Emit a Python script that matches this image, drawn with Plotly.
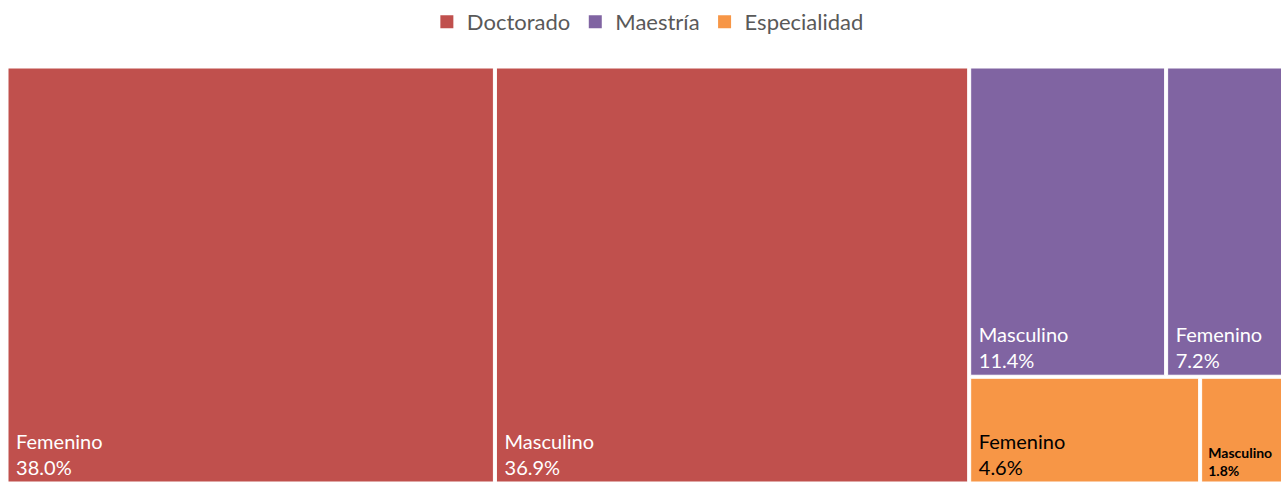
import plotly.graph_objects as go

# ---- data ----
groups = ["Doctorado", "Maestría", "Especialidad"]
group_colors = ["#C0504D", "#8064A2", "#F79646"]
group_text_colors = ["white", "white", "#000000"]

leaf_group = ["Doctorado", "Doctorado", "Maestría", "Maestría", "Especialidad", "Especialidad"]
leaf_labels = ["Femenino", "Masculino", "Masculino", "Femenino", "Femenino", "Masculino"]
leaf_values = [38.0, 36.9, 11.4, 7.2, 4.6, 1.8]

FONT = "Lato"

ids, labels, parents, values, colors, tcolors, tsizes, templates = [], [], [], [], [], [], [], []
for g, c, tc in zip(groups, group_colors, group_text_colors):
    ids.append(g)
    labels.append(g)
    parents.append("")
    values.append(round(sum(v for gg, v in zip(leaf_group, leaf_values) if gg == g), 1))
    colors.append("white")
    tcolors.append(tc)
    tsizes.append(20)
    templates.append("")
for g, lab, v in zip(leaf_group, leaf_labels, leaf_values):
    gi = groups.index(g)
    ids.append(g + "-" + lab)
    labels.append(lab)
    parents.append(g)
    values.append(v)
    colors.append(group_colors[gi])
    tcolors.append(group_text_colors[gi])
    if v < 3:
        tsizes.append(14)
        templates.append(" <b>%{label}</b><br> <b>%{value:.1f}%</b>")
    else:
        tsizes.append(20)
        templates.append(" %{label}<br> %{value:.1f}%")

fig = go.Figure()
fig.add_trace(go.Treemap(
    ids=ids, labels=labels, parents=parents, values=values,
    branchvalues="total", sort=True,
    marker=dict(colors=colors, line=dict(color="white", width=1),
                pad=dict(t=0, l=0, r=0, b=0)),
    texttemplate=templates,
    textposition="bottom left",
    textfont=dict(family=FONT, color=tcolors, size=tsizes),
    pathbar=dict(visible=False),
    tiling=dict(packing="squarify", squarifyratio=1, pad=3),
    hoverinfo="label+value",
    domain=dict(x=[0, 1], y=[0, 1]),
))

for g, c in zip(groups, group_colors):
    fig.add_trace(go.Scatter(
        x=[None], y=[None], mode="markers", name=g,
        marker=dict(symbol="square", size=13, color=c),
        showlegend=True, hoverinfo="skip",
    ))

fig.update_layout(
    width=1289, height=482,
    margin=dict(l=8, r=0, t=68, b=0),
    paper_bgcolor="white", plot_bgcolor="white",
    xaxis=dict(visible=False), yaxis=dict(visible=False),
    legend=dict(orientation="h", x=0.4995, xanchor="center", y=1.111, yanchor="middle",
                font=dict(family=FONT, size=22, color="#595959"),
                itemclick=False, itemdoubleclick=False),
    font=dict(family=FONT),
)

fig.write_html("out.html", config={"displayModeBar": False},
               post_script="document.body.style.margin='0';document.documentElement.style.overflow='hidden';")
